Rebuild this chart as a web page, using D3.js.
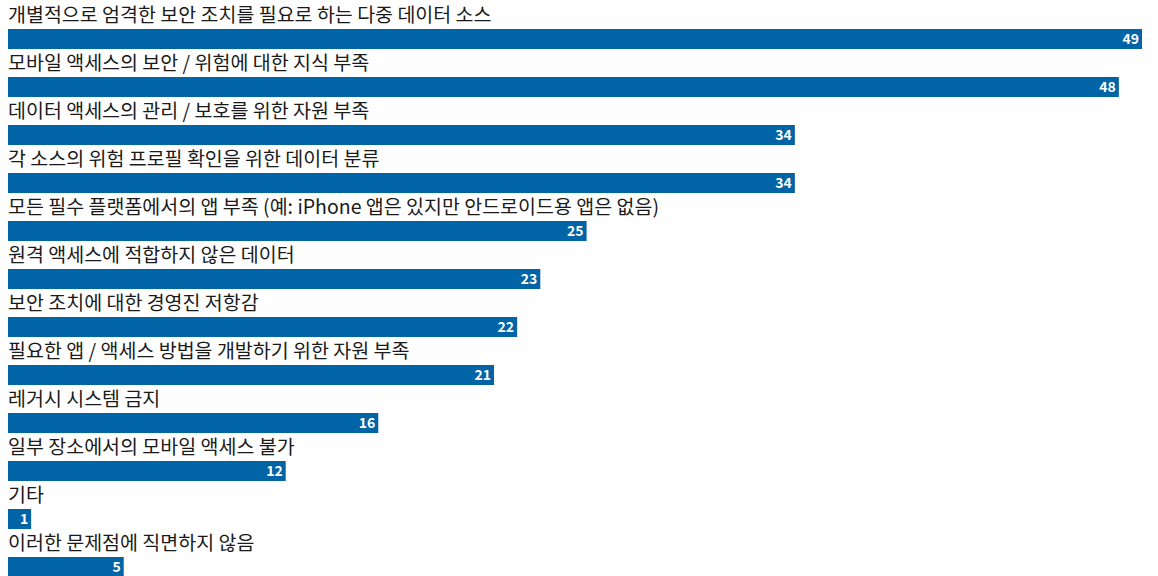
<!DOCTYPE html>
<html>
<head>
<meta charset="utf-8">
<script src="https://cdn.jsdelivr.net/npm/d3@7/dist/d3.min.js"></script>
<style>
  html, body { margin: 0; padding: 0; background: #fff; }
  svg { display: block; }
</style>
</head>
<body>
<script>
// Challenges reported, one row per category
const categories = [
  "개별적으로 엄격한 보안 조치를 필요로 하는 다중 데이터 소스",
  "모바일 액세스의 보안 / 위험에 대한 지식 부족",
  "데이터 액세스의 관리 / 보호를 위한 자원 부족",
  "각 소스의 위험 프로필 확인을 위한 데이터 분류",
  "모든 필수 플랫폼에서의 앱 부족 (예: iPhone 앱은 있지만 안드로이드용 앱은 없음)",
  "원격 액세스에 적합하지 않은 데이터",
  "보안 조치에 대한 경영진 저항감",
  "필요한 앱 / 액세스 방법을 개발하기 위한 자원 부족",
  "레거시 시스템 금지",
  "일부 장소에서의 모바일 액세스 불가",
  "기타",
  "이러한 문제점에 직면하지 않음"
];
const values = [49, 48, 34, 34, 25, 23, 22, 21, 16, 12, 1, 5];

const width = 1158, height = 576;
const rowStep = 48, barTop = 29, barH = 20;

const svg = d3.select("body").append("svg")
  .attr("width", width).attr("height", height);

const x = d3.scaleLinear().domain([0, 49]).range([8, 1142]);
const y = d3.scaleBand().domain(d3.range(categories.length))
  .range([0, rowStep * categories.length]).paddingInner(0).paddingOuter(0);

const rows = svg.selectAll("g.row")
  .data(categories.map((c, i) => ({ c, v: values[i], i })))
  .join("g")
  .attr("class", "row")
  .attr("transform", d => `translate(0,${y(d.i)})`);

rows.append("text")
  .attr("x", 8)
  .attr("y", 22)
  .attr("font-family", "'Noto Sans CJK KR', 'Noto Sans', sans-serif")
  .attr("font-size", 19.5)
  .attr("fill", "#1a1a1a")
  .text(d => d.c);

rows.append("rect")
  .attr("x", x(0))
  .attr("y", barTop)
  .attr("width", d => x(d.v) - x(0))
  .attr("height", barH)
  .attr("fill", "#0064a7");

rows.append("text")
  .attr("x", d => x(d.v) - 3)
  .attr("y", barTop + 15)
  .attr("text-anchor", "end")
  .attr("font-family", "'Noto Sans CJK KR', 'Noto Sans', sans-serif")
  .attr("font-weight", "bold")
  .attr("font-size", 14)
  .attr("fill", "#ffffff")
  .text(d => d.v);
</script>
</body>
</html>
